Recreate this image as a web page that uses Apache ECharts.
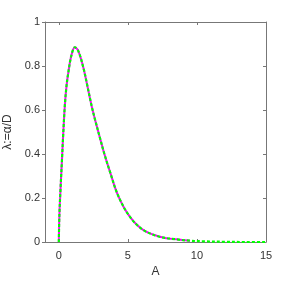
<!DOCTYPE html>
<html>
<head>
<meta charset="utf-8">
<script src="https://cdn.jsdelivr.net/npm/echarts@6/dist/echarts.min.js"></script>
<style>html,body{margin:0;padding:0;background:#fff}#c{width:300px;height:281px}</style>
</head>
<body>
<div id="c"></div>
<script>
// A values and λ values
const aValues = [0, 0.04, 0.12, 0.24, 0.31, 0.43, 0.55, 0.68, 0.9, 1.16, 1.4, 1.76, 2.05, 2.37, 2.67, 2.97, 3.3, 3.7, 4.3, 5.14, 6.1, 7.3, 8.5, 9.5, 10.5, 12, 13.5, 15];
const lambdaValues = [0, 0.12, 0.236, 0.388, 0.479, 0.615, 0.705, 0.767, 0.845, 0.885, 0.87, 0.797, 0.715, 0.62, 0.545, 0.475, 0.4, 0.32, 0.21, 0.115, 0.055, 0.024, 0.012, 0.006, 0.003, 0.001, 0, 0];
const solidEndA = 10.3;
const xTicks = [0, 5, 10, 15];
const yTicks = [0, 0.2, 0.4, 0.6, 0.8, 1];

const pts = aValues.map((a, i) => [a, lambdaValues[i]]);
const solidPts = pts.filter(p => p[0] <= solidEndA);

const axisCol = '#777';
const labelCol = '#333';
const font = 'Liberation Sans, Arial, sans-serif';

const chart = echarts.init(document.getElementById('c'));
chart.setOption({
  animation: false,
  grid: {left: 45, right: 34, top: 22, bottom: 39, containLabel: false, outerBoundsMode: 'none'},
  xAxis: [{
    type: 'value', min: -1, max: 15, position: 'bottom',
    name: 'A', nameLocation: 'middle', nameGap: 22,
    nameTextStyle: {color: labelCol, fontSize: 12, fontFamily: font},
    axisLine: {show: true, onZero: false, lineStyle: {color: axisCol, width: 1}},
    axisTick: {show: true, inside: true, length: 3, customValues: xTicks, lineStyle: {color: axisCol}},
    axisLabel: {color: labelCol, fontSize: 11, fontFamily: font, margin: 8, customValues: xTicks},
    splitLine: {show: false}
  }, {
    type: 'value', min: -1, max: 15, position: 'top',
    axisLine: {show: true, onZero: false, lineStyle: {color: axisCol, width: 1}},
    axisTick: {show: true, inside: true, length: 3, customValues: xTicks, lineStyle: {color: axisCol}},
    axisLabel: {show: false, customValues: xTicks},
    splitLine: {show: false}
  }],
  yAxis: [{
    type: 'value', min: 0, max: 1, position: 'left',
    name: 'λ:=α/D', nameLocation: 'middle', nameGap: 28, nameRotate: 90,
    nameTextStyle: {color: labelCol, fontSize: 12, fontFamily: font},
    axisLine: {show: true, onZero: false, lineStyle: {color: axisCol, width: 1}},
    axisTick: {show: true, inside: false, length: 3, customValues: yTicks, lineStyle: {color: axisCol}},
    axisLabel: {color: labelCol, fontSize: 11, fontFamily: font, margin: 5, customValues: yTicks,
      formatter: v => (Math.abs(v) < 1e-9 ? '0' : (Math.abs(v - 1) < 1e-9 ? '1' : String(+v.toFixed(1))))},
    splitLine: {show: false}
  }, {
    type: 'value', min: 0, max: 1, position: 'right',
    axisLine: {show: true, onZero: false, lineStyle: {color: axisCol, width: 1}},
    axisTick: {show: true, inside: true, length: 3, customValues: yTicks, lineStyle: {color: axisCol}},
    axisLabel: {show: false, customValues: yTicks},
    splitLine: {show: false}
  }],
  series: [{
    type: 'line', data: solidPts, xAxisIndex: 0, yAxisIndex: 0,
    showSymbol: false, smooth: 0.35,
    lineStyle: {color: '#ff00ff', width: 2, type: 'solid'}
  }, {
    type: 'line', data: pts, xAxisIndex: 0, yAxisIndex: 0,
    showSymbol: false, smooth: 0.35,
    lineStyle: {color: '#00ff00', width: 2.2, type: [3, 2], cap: 'butt'}
  }]
});
</script>
</body>
</html>
